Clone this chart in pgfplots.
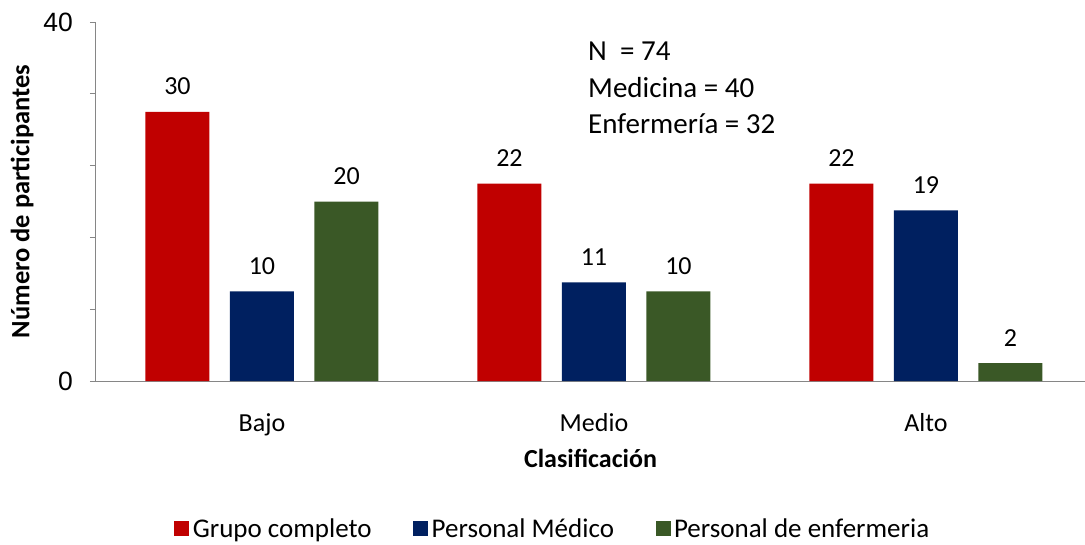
\documentclass[border=0pt]{standalone}
\usepackage{fontspec}
\setmainfont{Carlito}
\newfontfamily\ticksfont{Liberation Sans}
\usepackage{pgfplots}
\pgfplotsset{compat=1.18}

\definecolor{grupo}{RGB}{192,0,0}
\definecolor{medico}{RGB}{0,32,96}
\definecolor{enfer}{RGB}{58,88,38}
\definecolor{axisgray}{RGB}{134,134,134}

\newcommand{\bigtext}{\fontsize{26}{31}\selectfont}
\newcommand{\notetext}{\fontsize{29}{35}\selectfont}

\begin{document}
\begin{tikzpicture}
\path[use as bounding box] (-96pt,-163pt) rectangle (989pt,381pt);
\begin{axis}[
  at={(0pt,0pt)}, anchor=south west,
  scale only axis, width=989pt, height=359pt,
  xmin=-0.5, xmax=2.479, ymin=0, ymax=40,
  ybar=20.5pt, bar width=64pt,
  axis x line*=bottom, axis y line*=left,
  axis line style={draw=axisgray, line width=1pt},
  xtick={0,1,2}, xticklabels={Bajo,Medio,Alto},
  xtick style={draw=none},
  xticklabel style={font=\bigtext, anchor=base, inner sep=0pt, yshift=-44pt},
  ytick={0,8,...,40}, yticklabels={0,,,,,40},
  ytick style={draw=axisgray, line width=1pt},
  yticklabel style={font=\ticksfont\fontsize{26.5}{30}\selectfont, anchor=east, inner sep=0pt, xshift=-17pt},
  /pgf/number format/assume math mode=true,
  tick align=outside, major tick length=6pt,
  xlabel={\bfseries Clasificación},
  xlabel style={font=\bigtext, at={(axis description cs:0.5,-0.2423)}, anchor=base},
  ylabel={\bfseries Número de participantes},
  ylabel style={font=\fontsize{26.5}{31}\selectfont, at={(axis description cs:-0.0748,0.5)}, anchor=center, rotate=0},
  nodes near coords,
  every node near coord/.append style={font=\bigtext, color=black, anchor=south, inner sep=0pt, yshift=16.7pt},
  legend style={at={(axis description cs:0.4626,-0.412)}, anchor=center, draw=none,
    font=\fontsize{27}{32}\selectfont, legend columns=3,
    nodes={inner sep=3.5pt},
    /tikz/every even column/.append style={column sep=38pt}},
  legend image code/.code={\fill[#1, draw=none] (0pt,-7pt) rectangle (15pt,8pt);},
]
\addplot[fill=grupo, draw=none] coordinates {(0,30) (1,22) (2,22)};
\addplot[fill=medico, draw=none] coordinates {(0,10) (1,11) (2,19)};
\addplot[fill=enfer, draw=none] coordinates {(0,20) (1,10) (2,2)};
\legend{Grupo completo, Personal Médico, Personal de enfermeria}
\node[font=\notetext, anchor=base west, inner sep=0pt] at (axis description cs:0.4975,0.8914) {N\ \ = 74};
\node[font=\notetext, anchor=base west, inner sep=0pt] at (axis description cs:0.4975,0.7897) {Medicina = 40};
\node[font=\notetext, anchor=base west, inner sep=0pt] at (axis description cs:0.4975,0.6894) {Enfermería = 32};
\end{axis}
\end{tikzpicture}
\end{document}
